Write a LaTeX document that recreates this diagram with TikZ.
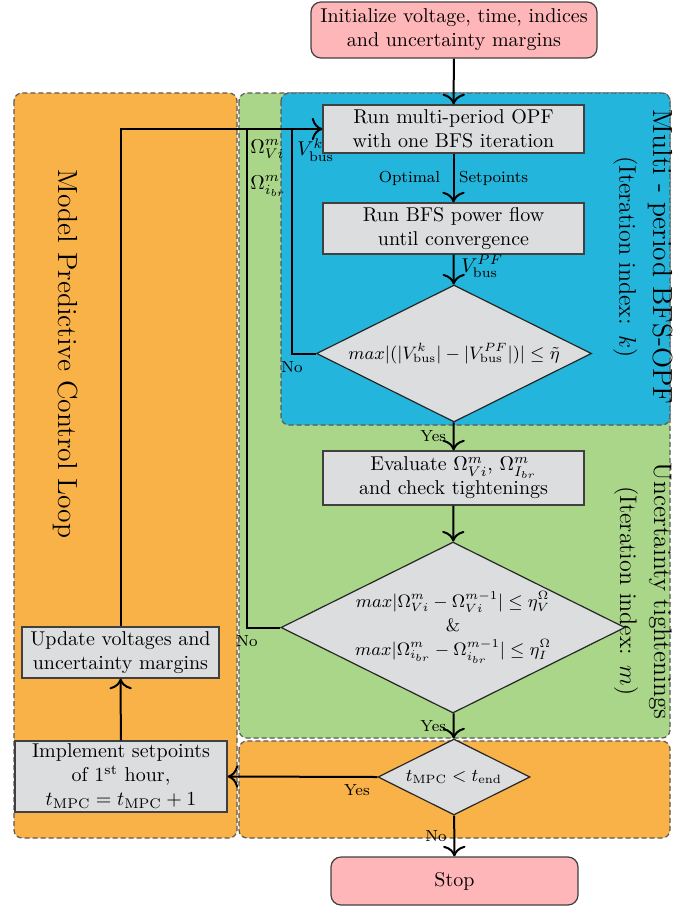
\documentclass[tikz,border=0pt]{standalone}
\usepackage{amsmath,amssymb}
\usetikzlibrary{shapes.geometric, arrows.meta, positioning, calc}
\definecolor{mpcorange}{RGB}{249,178,72}
\definecolor{tightgreen}{RGB}{170,214,138}
\definecolor{bfsblue}{RGB}{35,181,219}
\definecolor{boxgray}{RGB}{220,221,223}
\definecolor{termpink}{RGB}{255,182,185}

\begin{document}
\begin{tikzpicture}[
		x=0.5pt, y=-0.5pt,
		process/.style={rectangle, draw=black!75, fill=boxgray, line width=0.6pt, align=center, inner sep=1pt},
		terminal/.style={rectangle, rounded corners=5pt, draw=black!75, fill=termpink, line width=0.6pt, align=center},
		decision/.style={diamond, aspect=2, draw=black!85, fill=boxgray, line width=0.6pt, inner sep=0pt, align=center, font=\small},
		region/.style={draw=black!65, dash pattern=on 2.5pt off 1.5pt, rounded corners=4pt, line width=0.6pt},
		flow/.style={draw, line width=1pt},
		lbl/.style={font=\footnotesize},
		title/.style={rotate=-90, align=center, font=\fontsize{13.8}{17}\selectfont},
		>={To[scale=1.4]}
		]
		\useasboundingbox (0,0) rectangle (688,907);
		
		% --- Background Regions ---
		\draw[region, fill=mpcorange] (14,93) rectangle (237,838);
		\draw[region, fill=mpcorange] (239,741) rectangle (670,838);
		\draw[region, fill=tightgreen] (239,93) rectangle (670,738);
		\draw[region, fill=bfsblue] (281,93) rectangle (670,425);
		
		% --- Region Titles ---
		\node[title] (mpc_title) at (66,354) {Model Predictive Control Loop};
		\node[title] (bfs_title) at (643,257) {Multi - period BFS-OPF\\ {\large (Iteration index: $k$)}};
		\node[title, font=\fontsize{12.7}{17}\selectfont] (tight_title) at (643,591) {Uncertainty tightenings\\ {\large (Iteration index: $m$)}};
		
		% --- Main Column ---
		\node[terminal, minimum width=143pt, minimum height=28pt] (init) at (454,30) {Initialize voltage, time, indices\\ and uncertainty margins};
		\node[process, minimum width=130.5pt, minimum height=24pt] (opf) at (453.5,129) {Run multi-period OPF\\ with one BFS iteration};
		\node[process, minimum width=130.5pt, minimum height=25.5pt] (bfs) at (453.5,228.5) {Run BFS power flow\\ until convergence};
		\node[decision, minimum width=137.5pt, minimum height=68.5pt] (conv_check) at (454,353.5) {$max|(|V^k_{\text{bus}}| - |V^{PF}_{\text{bus}}|)| \leq \tilde{\eta}$};
		\node[process, minimum width=130.5pt, minimum height=27pt] (evaluate) at (453.5,478) {Evaluate $\Omega^m_{Vi}$, $\Omega^m_{I_{br}}$\\ and check tightenings};
		\node[decision, minimum width=172pt, minimum height=85.5pt] (tight_check) at (453,627.5) {$max|\Omega^m_{Vi} - \Omega^{m-1}_{Vi}| \leq \eta^{\Omega}_V$\\[1pt] \&\\[1pt] $max|\Omega^m_{i_{br}} - \Omega^{m-1}_{i_{br}}| \leq \eta^{\Omega}_I$};
		\node[decision, minimum width=76pt, minimum height=38pt] (time_check) at (454,777) {$t_{\text{MPC}} < t_{\text{end}}$};
		\node[terminal, minimum width=123.5pt, minimum height=24pt] (stop) at (454.5,881) {Stop};
		
		% --- MPC Column (Left Side) ---
		\node[process, minimum width=106pt, minimum height=35.5pt] (implement) at (121,776.5) {Implement setpoints\\ of 1\textsuperscript{st} hour,\\ $t_{\text{MPC}} = t_{\text{MPC}} + 1$};
		\node[process, minimum width=98.5pt, minimum height=25.5pt] (update) at (120.5,652.5) {Update voltages and\\ uncertainty margins};
		
		% --- Join points on the return line ---
		\coordinate (k_join) at (292,129);
		\coordinate (m_join) at (247,129);
		
		% --- Forward Path ---
		\draw[flow, ->] (init) -- (opf);
		\draw[flow, ->] (opf) -- node[lbl] {Optimal\hspace{9.5pt}Setpoints} (bfs);
		\draw[flow, ->] (bfs) -- node[right, pos=0.4] {$V^{PF}_{\text{bus}}$} (conv_check);
		\draw[flow, ->] (conv_check) -- node[lbl, left] {Yes} (evaluate);
		\draw[flow, ->] (evaluate) -- (tight_check);
		\draw[flow, ->] (tight_check) -- node[lbl, left] {Yes} (time_check);
		\draw[flow, ->] (time_check) -- node[lbl, left] {No} (stop);
		\draw[flow, ->] (time_check.west) -- node[lbl, pos=0, below left] {Yes} (implement.east);
		
		% --- Loops back to the OPF ---
		\draw[flow, ->] (implement) -- (update);
		\draw[flow, ->] (update.north) |- (opf.west);
		\draw[flow] (conv_check.west) -- (conv_check.west -| k_join) node[lbl, below] {No} -- (k_join);
		\draw[flow] (tight_check.west) -- (tight_check.west -| m_join) node[lbl, below] {No} -- (m_join);
		\node[anchor=north west, inner sep=0pt] (vk_label) at ($(k_join)+(5,9)$) {$V^k_{\text{bus}}$};
		\node[anchor=north west, align=left, inner sep=0pt] (omega_label) at ($(m_join)+(3,10)$) {$\Omega^m_{Vi}$\\[6pt] $\Omega^m_{i_{br}}$};
		
	\end{tikzpicture}
\end{document}
